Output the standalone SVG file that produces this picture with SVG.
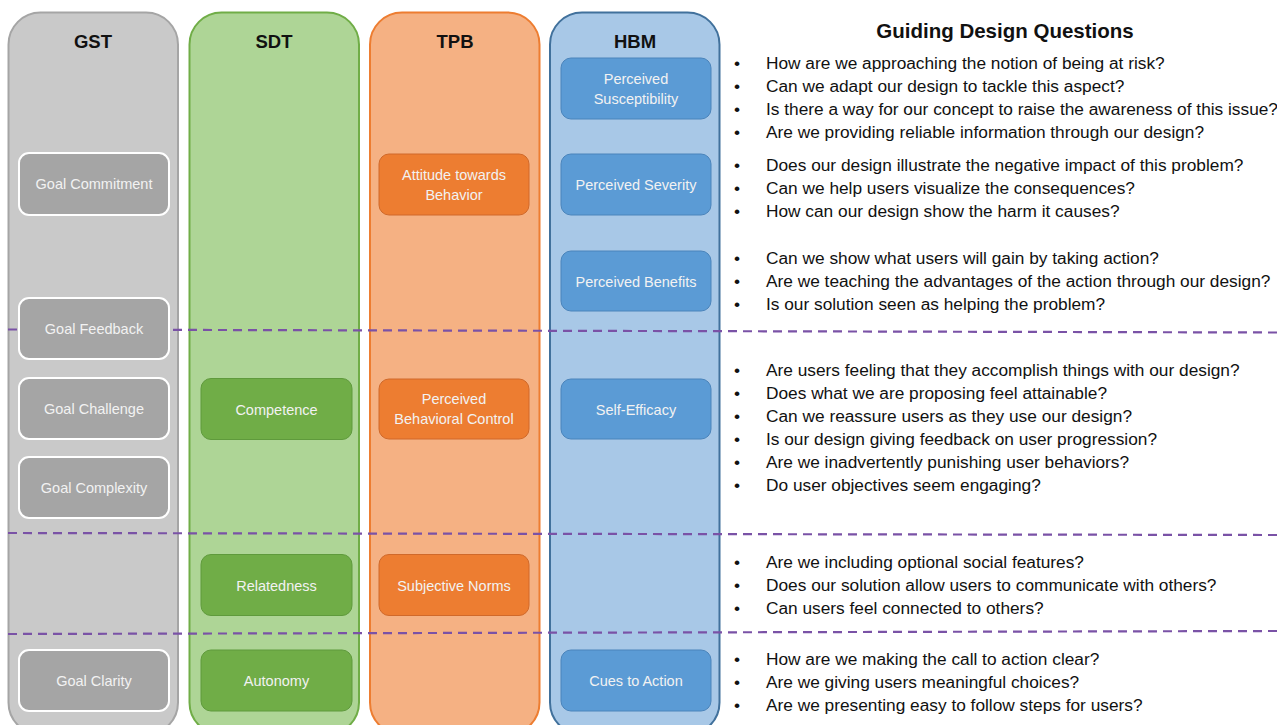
<svg xmlns="http://www.w3.org/2000/svg" width="1277" height="725" viewBox="0 0 1277 725">
<style>
.col{stroke-width:2}
.hdr{font-family:"Liberation Sans",Arial,sans-serif;font-weight:bold;font-size:18.5px;fill:#111;text-anchor:middle}
.nt{font-family:"Liberation Sans",Arial,sans-serif;font-size:14.5px;fill:#f2f2f2;text-anchor:middle}
.gst{fill:#a5a5a5;stroke:#ffffff;stroke-width:2}
.sdt{fill:#70ad47;stroke:#5f9a3c;stroke-width:1}
.tpb{fill:#ed7d31;stroke:#d0692a;stroke-width:1}
.hbm{fill:#5b9bd5;stroke:#4a84bb;stroke-width:1}
.dash{stroke:#7a52a6;stroke-width:2.2;stroke-dasharray:9 6;fill:none}
.q{font-family:"Liberation Sans",Arial,sans-serif;font-size:17.3px;fill:#111}
.title{font-family:"Liberation Sans",Arial,sans-serif;font-weight:bold;font-size:20.5px;fill:#111;text-anchor:middle}
</style>
<rect width="1277" height="725" fill="#ffffff"/>
<g id="columns">
<g id="col-gst"><rect class="col" x="8.5" y="12.5" width="169.5" height="722" rx="32" fill="#c9c9c9" stroke="#a5a5a5"/><text class="hdr" x="93" y="48">GST</text></g>
<g id="col-sdt"><rect class="col" x="189.5" y="12.5" width="169.5" height="722" rx="32" fill="#aed596" stroke="#70ad47"/><text class="hdr" x="274" y="48">SDT</text></g>
<g id="col-tpb"><rect class="col" x="370" y="12.5" width="169.5" height="722" rx="32" fill="#f5b183" stroke="#ed7d31"/><text class="hdr" x="455" y="48">TPB</text></g>
<g id="col-hbm"><rect class="col" x="550" y="12.5" width="169.5" height="722" rx="32" fill="#a8c8e7" stroke="#41719c"/><text class="hdr" x="635" y="48">HBM</text></g>
</g>
<g id="connectors">
<line class="dash" x1="8" y1="329.5" x2="1277" y2="332.5"/>
<line class="dash" x1="8" y1="533" x2="1277" y2="535"/>
<line class="dash" x1="8" y1="634" x2="1277" y2="631"/>
</g>
<g id="gst-goal-commitment"><rect class="gst" x="19" y="153" width="150" height="62" rx="10"/><text class="nt" x="94" y="189">Goal Commitment</text></g>
<g id="gst-goal-feedback"><rect class="gst" x="19" y="298" width="150" height="61" rx="10"/><text class="nt" x="94" y="334">Goal Feedback</text></g>
<g id="gst-goal-challenge"><rect class="gst" x="19" y="378" width="150" height="61" rx="10"/><text class="nt" x="94" y="414">Goal Challenge</text></g>
<g id="gst-goal-complexity"><rect class="gst" x="19" y="457" width="150" height="61" rx="10"/><text class="nt" x="94" y="493">Goal Complexity</text></g>
<g id="gst-goal-clarity"><rect class="gst" x="19" y="650" width="150" height="61" rx="10"/><text class="nt" x="94" y="686">Goal Clarity</text></g>
<g id="sdt-competence"><rect class="sdt" x="201" y="378.5" width="151" height="61" rx="10"/><text class="nt" x="276.5" y="414.5">Competence</text></g>
<g id="sdt-relatedness"><rect class="sdt" x="201" y="554.5" width="151" height="61" rx="10"/><text class="nt" x="276.5" y="590.5">Relatedness</text></g>
<g id="sdt-autonomy"><rect class="sdt" x="201" y="650" width="151" height="61" rx="10"/><text class="nt" x="276.5" y="686">Autonomy</text></g>
<g id="tpb-attitude"><rect class="tpb" x="379" y="154" width="150" height="61" rx="10"/><text class="nt" x="454" y="180">Attitude towards</text><text class="nt" x="454" y="199.5">Behavior</text></g>
<g id="tpb-pbc"><rect class="tpb" x="379" y="379" width="150" height="60" rx="10"/><text class="nt" x="454" y="404">Perceived</text><text class="nt" x="454" y="423.5">Behavioral Control</text></g>
<g id="tpb-subjective-norms"><rect class="tpb" x="379" y="554.5" width="150" height="61" rx="10"/><text class="nt" x="454" y="590.5">Subjective Norms</text></g>
<g id="hbm-susceptibility"><rect class="hbm" x="561" y="58" width="150" height="61" rx="10"/><text class="nt" x="636" y="84">Perceived</text><text class="nt" x="636" y="104">Susceptibility</text></g>
<g id="hbm-severity"><rect class="hbm" x="561" y="154" width="150" height="61" rx="10"/><text class="nt" x="636" y="190">Perceived Severity</text></g>
<g id="hbm-benefits"><rect class="hbm" x="561" y="251" width="150" height="60" rx="10"/><text class="nt" x="636" y="286.5">Perceived Benefits</text></g>
<g id="hbm-self-efficacy"><rect class="hbm" x="561" y="379" width="150" height="60" rx="10"/><text class="nt" x="636" y="414.5">Self-Efficacy</text></g>
<g id="hbm-cues"><rect class="hbm" x="561" y="650" width="150" height="61" rx="10"/><text class="nt" x="636" y="686">Cues to Action</text></g>
<g id="questions">
<text class="title" x="1005" y="38">Guiding Design Questions</text>
<g class="q">
<text x="734" y="69">•</text><text x="766" y="69">How are we approaching the notion of being at risk?</text>
<text x="734" y="92">•</text><text x="766" y="92">Can we adapt our design to tackle this aspect?</text>
<text x="734" y="115">•</text><text x="766" y="115">Is there a way for our concept to raise the awareness of this issue?</text>
<text x="734" y="138">•</text><text x="766" y="138">Are we providing reliable information through our design?</text>
<text x="734" y="171">•</text><text x="766" y="171">Does our design illustrate the negative impact of this problem?</text>
<text x="734" y="194">•</text><text x="766" y="194">Can we help users visualize the consequences?</text>
<text x="734" y="217">•</text><text x="766" y="217">How can our design show the harm it causes?</text>
<text x="734" y="264">•</text><text x="766" y="264">Can we show what users will gain by taking action?</text>
<text x="734" y="287">•</text><text x="766" y="287">Are we teaching the advantages of the action through our design?</text>
<text x="734" y="310">•</text><text x="766" y="310">Is our solution seen as helping the problem?</text>
<text x="734" y="376">•</text><text x="766" y="376">Are users feeling that they accomplish things with our design?</text>
<text x="734" y="399">•</text><text x="766" y="399">Does what we are proposing feel attainable?</text>
<text x="734" y="422">•</text><text x="766" y="422">Can we reassure users as they use our design?</text>
<text x="734" y="445">•</text><text x="766" y="445">Is our design giving feedback on user progression?</text>
<text x="734" y="468">•</text><text x="766" y="468">Are we inadvertently punishing user behaviors?</text>
<text x="734" y="491">•</text><text x="766" y="491">Do user objectives seem engaging?</text>
<text x="734" y="568">•</text><text x="766" y="568">Are we including optional social features?</text>
<text x="734" y="591">•</text><text x="766" y="591">Does our solution allow users to communicate with others?</text>
<text x="734" y="614">•</text><text x="766" y="614">Can users feel connected to others?</text>
<text x="734" y="665">•</text><text x="766" y="665">How are we making the call to action clear?</text>
<text x="734" y="688">•</text><text x="766" y="688">Are we giving users meaningful choices?</text>
<text x="734" y="711">•</text><text x="766" y="711">Are we presenting easy to follow steps for users?</text>
</g>
</g>
</svg>
